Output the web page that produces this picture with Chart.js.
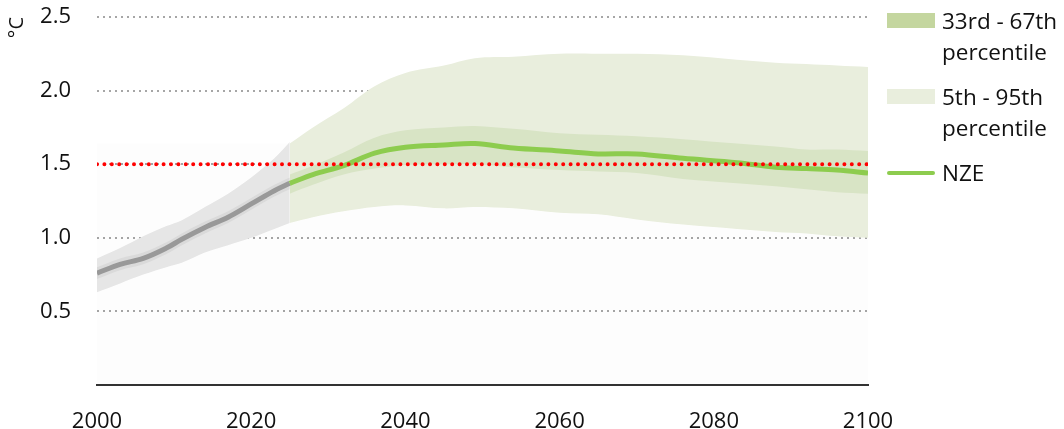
<!DOCTYPE html>
<html lang="en">
<head>
  <meta charset="UTF-8">
  <title>Temperature rise</title>
  <script src="https://cdn.jsdelivr.net/npm/chart.js"></script>
  <style>
    body {
      margin: 0;
      background: #fff;
      font-family: "Open Sans", sans-serif;
    }
    #wrap {
      position: relative;
      width: 1064px;
      height: 429px;
    }
    .legend-item {
      position: absolute;
      left: 887px;
      font-size: 22.5px;
      color: #111;
      line-height: 31px;
    }
    .legend-item .swatch {
      position: absolute;
      left: 0;
      width: 48px;
    }
    .legend-item .label {
      position: absolute;
      left: 55px;
      white-space: nowrap;
    }
  </style>
</head>
<body>
  <div id="wrap">
    <canvas id="tempChart" width="1064" height="429"></canvas>

    <!-- legend -->
    <div class="legend-item" style="top: 5px;">
      <div class="swatch" style="top: 8px; height: 15px; background: #c4d69f;"></div>
      <div class="label">33rd - 67th<br>percentile</div>
    </div>
    <div class="legend-item" style="top: 81px;">
      <div class="swatch" style="top: 8px; height: 15px; background: #e9eedd;"></div>
      <div class="label">5th - 95th<br>percentile</div>
    </div>
    <div class="legend-item" style="top: 157px;">
      <div class="swatch" style="top: 14px; height: 4px; border-radius: 2px; background: #8dcc4e;"></div>
      <div class="label">NZE</div>
    </div>
  </div>

  <script>
    // historical part (grey)
    const histYears = [2000, 2003, 2006, 2009, 2011, 2014, 2017, 2020, 2023, 2025];
    const histMid   = [0.76, 0.82, 0.86, 0.93, 0.99, 1.07, 1.14, 1.23, 1.32, 1.37];
    const histHigh  = [0.86, 0.93, 1.01, 1.08, 1.12, 1.21, 1.30, 1.41, 1.54, 1.65];
    const histLow   = [0.63, 0.69, 0.75, 0.80, 0.83, 0.90, 0.95, 1.00, 1.06, 1.10];

    // NZE projection (green)
    const nzeYears = [2025, 2028, 2032, 2036, 2040, 2045, 2049, 2054, 2060, 2065, 2070, 2076, 2083, 2088, 2092, 2096, 2100];
    const nze      = [1.37, 1.43, 1.49, 1.575, 1.615, 1.63, 1.64, 1.61, 1.59, 1.57, 1.57, 1.54, 1.51, 1.48, 1.47, 1.46, 1.44];
    const p67      = [1.43, 1.49, 1.58, 1.68, 1.73, 1.75, 1.76, 1.74, 1.71, 1.70, 1.69, 1.67, 1.64, 1.62, 1.60, 1.60, 1.59];
    const p33      = [1.30, 1.36, 1.43, 1.47, 1.495, 1.50, 1.50, 1.48, 1.46, 1.45, 1.44, 1.40, 1.37, 1.35, 1.33, 1.31, 1.30];
    const p95      = [1.64, 1.75, 1.88, 2.03, 2.12, 2.17, 2.22, 2.23, 2.25, 2.25, 2.25, 2.24, 2.21, 2.19, 2.18, 2.17, 2.16];
    const p5       = [1.10, 1.14, 1.18, 1.21, 1.22, 1.20, 1.21, 1.20, 1.17, 1.16, 1.125, 1.09, 1.06, 1.04, 1.03, 1.01, 1.00];

    // 1.5 °C reference line
    const refYears = [2000, 2100];
    const refLevel = [1.5, 1.5];

    // faint backdrop behind the plot
    const bgYears = [2000, 2100];
    const bgLevel = [1.64, 1.64];

    const xTicks = [2000, 2020, 2040, 2060, 2080, 2100];

    const pts = (xs, ys) => xs.map((x, i) => ({ x: x, y: ys[i] }));
    const histInnerHigh = histMid.map(v => v + 0.04);
    const histInnerLow  = histMid.map(v => v - 0.04);

    const band = (data, fill, color) => ({
      data: data, fill: fill, backgroundColor: color,
      borderWidth: 0, pointRadius: 0, tension: 0.35
    });

    new Chart(document.getElementById('tempChart').getContext('2d'), {
      type: 'line',
      data: {
        datasets: [
          { data: pts(refYears, refLevel), borderColor: '#ff0000', borderWidth: 4,
            borderDash: [0, 7.4], borderCapStyle: 'round', pointRadius: 0, fill: false },
          { data: pts(nzeYears, nze), borderColor: '#8dcc4e', borderWidth: 5,
            pointRadius: 0, tension: 0.35, fill: false },
          { data: pts(histYears, histMid), borderColor: '#999999', borderWidth: 5,
            pointRadius: 0, tension: 0.35, fill: false },
          band(pts(nzeYears, p67), '+1', '#d8e4c5'),
          band(pts(nzeYears, p33), false, 'transparent'),
          band(pts(nzeYears, p95), '+1', '#e9eedd'),
          band(pts(nzeYears, p5), false, 'transparent'),
          band(pts(histYears, histInnerHigh), '+1', '#dadada'),
          band(pts(histYears, histInnerLow), false, 'transparent'),
          band(pts(histYears, histHigh), '+1', '#e6e6e6'),
          band(pts(histYears, histLow), false, 'transparent'),
          band(pts(bgYears, bgLevel), 'origin', 'rgba(0,0,0,0.007)')
        ]
      },
      options: {
        responsive: false,
        animation: false,
        layout: { padding: { top: 17, right: 196, left: 0, bottom: 0 } },
        plugins: {
          legend: { display: false },
          tooltip: { enabled: false }
        },
        scales: {
          x: {
            type: 'linear',
            min: 2000,
            max: 2100,
            afterBuildTicks: axis => { axis.ticks = xTicks.map(v => ({ value: v })); },
            afterFit: axis => { axis.height = 44; },
            grid: { display: false, drawTicks: false },
            border: { display: true, color: '#333', width: 2 },
            ticks: {
              padding: 24,
              color: '#111',
              font: { family: 'Open Sans', size: 22 },
              maxRotation: 0,
              callback: v => String(v)
            }
          },
          y: {
            min: 0,
            max: 2.5,
            afterFit: axis => {
              axis.width = 97;
              axis.paddingTop = 0;
              axis.paddingBottom = 0;
            },
            grid: {
              drawTicks: false,
              lineWidth: 2,
              color: ctx => ctx.tick && ctx.tick.value === 0 ? 'transparent' : '#a6a6a6'
            },
            border: { display: false, dash: [2, 4] },
            ticks: {
              stepSize: 0.5,
              padding: 26,
              color: '#111',
              font: { family: 'Open Sans', size: 22 },
              callback: v => v === 0 ? '' : v.toFixed(1)
            },
            title: {
              display: true,
              text: '°C',
              align: 'end',
              color: '#111',
              font: { family: 'Open Sans', size: 20 },
              padding: { top: 5, bottom: 0 }
            }
          }
        }
      }
    });
  </script>
</body>
</html>
